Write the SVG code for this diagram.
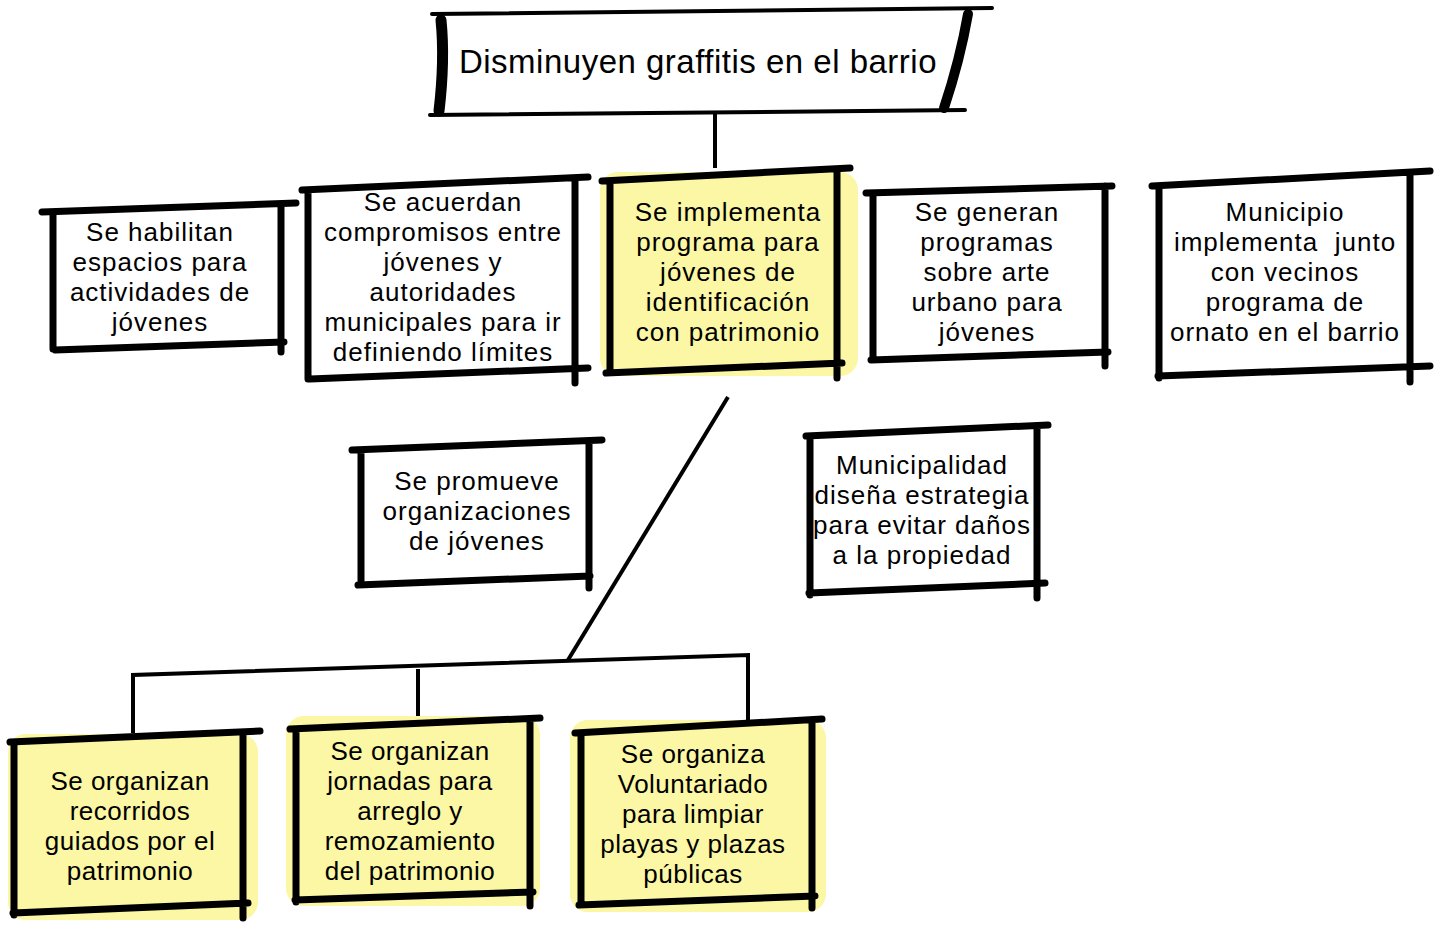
<svg xmlns="http://www.w3.org/2000/svg" width="1444" height="933" viewBox="0 0 1444 933">
<style>
.e{stroke:#000;stroke-width:7;fill:none;stroke-linecap:round;stroke-linejoin:round}
.c{stroke:#000;stroke-width:4;fill:none;stroke-linecap:butt}
.y{fill:#fbf7a4}
text{font-family:"Liberation Sans","Noto Sans",sans-serif;font-size:26px;letter-spacing:1px;fill:#000;text-anchor:middle}
.t{font-size:33px;letter-spacing:0.5px}
.lg{font-size:26px;letter-spacing:0.5px}
</style>
<rect width="1444" height="933" fill="#fff"/>
<g id="connectors">
<path class="c" d="M715 113 V168"/>
<path class="c" d="M728 397 L568 660"/>
<path class="c" d="M133 733 V675 L748 655 V720"/>
<path class="c" d="M418 669 V722"/>
</g>
<g id="n0">
<rect x="440" y="12" width="520" height="102" fill="#fff"/>
<path class="e" style="stroke-width:4" d="M432 14 L992 8"/>
<path class="e" style="stroke-width:4" d="M430 115 L965 110"/>
<path class="e" style="stroke-width:11" d="M441 20 Q445 60 439 111"/>
<path class="e" style="stroke-width:10" d="M968 14 Q960 60 944 108"/>
<text class="t" x="698" y="73">Disminuyen graffitis en el barrio</text>
</g>
<g id="n1">
<path class="e" d="M42 212 L296 203 M53 212 V349 M281 205 V352 M55 350 L284 342"/>
<text x="160" y="241">Se habilitan</text>
<text x="160" y="271">espacios para</text>
<text x="160" y="301">actividades de</text>
<text x="160" y="331">jóvenes</text>
</g>
<g id="n2">
<path class="e" d="M302 190 L588 177 M308 190 V379 M575 179 V383 M310 379 L588 368"/>
<text x="443" y="211">Se acuerdan</text>
<text x="443" y="241">compromisos entre</text>
<text x="443" y="271">jóvenes y</text>
<text x="443" y="301">autoridades</text>
<text x="443" y="331">municipales para ir</text>
<text x="443" y="361">definiendo límites</text>
</g>
<g id="n3">
<rect class="y" x="600" y="172" width="258" height="204" rx="18"/>
<path class="e" d="M602 181 L850 168 M610 181 V372 M837 170 V378 M606 373 L842 363"/>
<text x="728" y="221">Se implementa</text>
<text x="728" y="251">programa para</text>
<text x="728" y="281">jóvenes de</text>
<text x="728" y="311">identificación</text>
<text x="728" y="341">con patrimonio</text>
</g>
<g id="n4">
<path class="e" d="M866 193 L1112 186 M873 193 V360 M1105 186 V366 M871 360 L1108 352"/>
<text x="987" y="221">Se generan</text>
<text x="987" y="251">programas</text>
<text x="987" y="281">sobre arte</text>
<text x="987" y="311">urbano para</text>
<text x="987" y="341">jóvenes</text>
</g>
<g id="n5">
<path class="e" d="M1152 186 L1430 171 M1159 186 V378 M1410 173 V382 M1158 376 L1430 366"/>
<text x="1285" y="221">Municipio</text>
<text x="1285" y="251" style="white-space:pre">implementa  junto</text>
<text x="1285" y="281">con vecinos</text>
<text x="1285" y="311">programa de</text>
<text x="1285" y="341">ornato en el barrio</text>
</g>
<g id="n6">
<path class="e" d="M352 450 L602 440 M361 450 V585 M589 441 V588 M358 585 L590 576"/>
<text x="477" y="490">Se promueve</text>
<text x="477" y="520">organizaciones</text>
<text x="477" y="550">de jóvenes</text>
</g>
<g id="n7">
<path class="e" d="M806 436 L1048 425 M810 436 V595 M1037 428 V598 M809 593 L1045 583"/>
<text x="922" y="474">Municipalidad</text>
<text x="922" y="504">diseña estrategia</text>
<text x="922" y="534">para evitar daños</text>
<text x="922" y="564">a la propiedad</text>
</g>
<g id="n8">
<rect class="y" x="8" y="734" width="250" height="186" rx="18"/>
<path class="e" d="M10 742 L260 731 M14 742 V915 M243 735 V918 M13 913 L248 903"/>
<text class="lg" x="130" y="790">Se organizan</text>
<text class="lg" x="130" y="820">recorridos</text>
<text class="lg" x="130" y="850">guiados por el</text>
<text class="lg" x="130" y="880">patrimonio</text>
</g>
<g id="n9">
<rect class="y" x="286" y="716" width="254" height="190" rx="18"/>
<path class="e" d="M290 729 L540 718 M296 729 V902 M530 720 V906 M295 900 L533 892"/>
<text class="lg" x="410" y="760">Se organizan</text>
<text class="lg" x="410" y="790">jornadas para</text>
<text class="lg" x="410" y="820">arreglo y</text>
<text class="lg" x="410" y="850">remozamiento</text>
<text class="lg" x="410" y="880">del patrimonio</text>
</g>
<g id="n10">
<rect class="y" x="570" y="720" width="256" height="192" rx="18"/>
<path class="e" d="M575 733 L822 719 M581 734 V905 M812 721 V908 M579 905 L815 896"/>
<text class="lg" x="693" y="763">Se organiza</text>
<text class="lg" x="693" y="793">Voluntariado</text>
<text class="lg" x="693" y="823">para limpiar</text>
<text class="lg" x="693" y="853">playas y plazas</text>
<text class="lg" x="693" y="883">públicas</text>
</g>
</svg>
